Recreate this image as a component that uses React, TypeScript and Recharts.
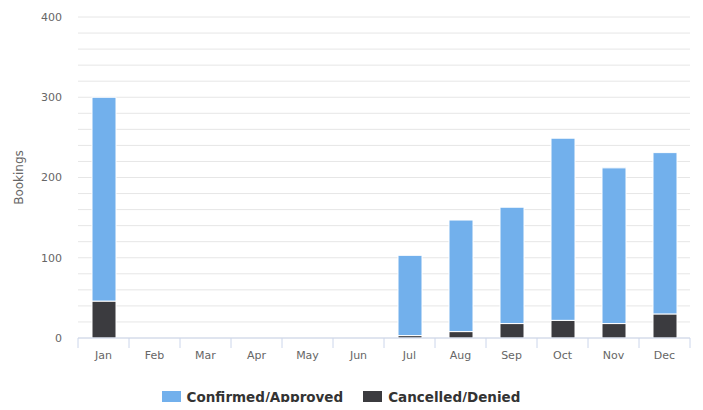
import { Bar, BarChart, CartesianGrid, Legend, XAxis, YAxis } from 'recharts';

const months = ['Jan', 'Feb', 'Mar', 'Apr', 'May', 'Jun', 'Jul', 'Aug', 'Sep', 'Oct', 'Nov', 'Dec'];
const confirmed = [254, 0, 0, 0, 0, 0, 100, 139, 145, 227, 194, 201];
const cancelled = [46, 0, 0, 0, 0, 0, 3, 8, 18, 22, 18, 30];
const yTicks = [0, 20, 40, 60, 80, 100, 120, 140, 160, 180, 200, 220, 240, 260, 280, 300, 320, 340, 360, 380, 400];

const data = months.map((m, i) => ({ month: m, confirmed: confirmed[i], cancelled: cancelled[i] }));

const W = 703;
const H = 410;
const margin = { top: 17, right: 13, bottom: 5, left: 0 };
const Y_AXIS_W = 78;
const bandW = (W - margin.left - margin.right - Y_AXIS_W) / months.length;

const BLUE = '#72b0ec';
const DARK = '#3b3b3f';

function MonthTick(props: any) {
  const { x, y, payload, index } = props;
  return (
    <g>
      <line x1={x - bandW / 2} x2={x - bandW / 2} y1={y} y2={y + 10} stroke="#ccd6eb" />
      {index === months.length - 1 && (
        <line x1={x + bandW / 2} x2={x + bandW / 2} y1={y} y2={y + 10} stroke="#ccd6eb" />
      )}
      <text x={x} y={y + 21} textAnchor="middle" fill="#666" fontSize={11}>
        {payload.value}
      </text>
    </g>
  );
}

function LegendBox() {
  const items = [
    { name: 'Confirmed/Approved', color: BLUE },
    { name: 'Cancelled/Denied', color: DARK },
  ];
  return (
    <div
      style={{
        display: 'flex',
        justifyContent: 'center',
        gap: 20,
        height: 16,
        lineHeight: '16px',
        paddingRight: 8,
        boxSizing: 'border-box',
      }}
    >
      {items.map((it) => (
        <div key={it.name} style={{ display: 'flex', alignItems: 'center' }}>
          <span style={{ display: 'inline-block', width: 19, height: 12, background: it.color, marginRight: 6 }} />
          <span style={{ fontWeight: 'bold', fontSize: 13.5, color: '#333' }}>{it.name}</span>
        </div>
      ))}
    </div>
  );
}

export default function App() {
  return (
    <div style={{ margin: -8, fontFamily: '"DejaVu Sans", sans-serif' }}>
      <BarChart width={W} height={H} data={data} margin={margin}>
        <CartesianGrid horizontal vertical={false} stroke="#e6e6e6" />
        <XAxis
          dataKey="month"
          height={51}
          axisLine={{ stroke: '#ccd6eb' }}
          tickLine={false}
          tickSize={0}
          tickMargin={0}
          tick={<MonthTick />}
          interval={0}
        />
        <YAxis
          width={Y_AXIS_W}
          domain={[0, 400]}
          ticks={yTicks}
          interval={0}
          axisLine={false}
          tickLine={false}
          tickSize={0}
          tickMargin={16}
          tickFormatter={(v: number) => (v % 100 === 0 ? String(v) : '')}
          tick={{ fill: '#666', fontSize: 11 }}
          label={{ value: 'Bookings', angle: -90, position: 'center', dx: -20, fill: '#666', fontSize: 12 }}
        />
        <Legend verticalAlign="bottom" content={<LegendBox />} />
        <Bar dataKey="cancelled" name="Cancelled/Denied" stackId="a" fill={DARK} stroke="#fff" strokeWidth={1} barSize={24} isAnimationActive={false} />
        <Bar dataKey="confirmed" name="Confirmed/Approved" stackId="a" fill={BLUE} stroke="#fff" strokeWidth={1} barSize={24} isAnimationActive={false} />
      </BarChart>
    </div>
  );
}
